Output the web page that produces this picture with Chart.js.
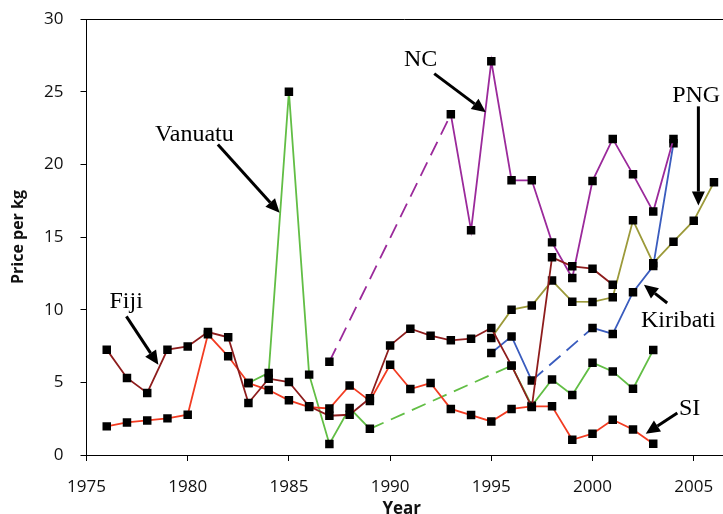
<!DOCTYPE html>
<html>
<head>
<meta charset="utf-8">
<script src="https://cdn.jsdelivr.net/npm/chart.js@4/dist/chart.umd.min.js"></script>
<style>
  html, body { margin: 0; padding: 0; background: #ffffff; }
  #wrap { width: 723px; height: 514px; position: relative; }
</style>
</head>
<body>
<div id="wrap"><canvas id="c" width="723" height="514"></canvas></div>
<script>
// ---- Data (years 1976..2006) ----
const years = [1976,1977,1978,1979,1980,1981,1982,1983,1984,1985,1986,1987,1988,1989,1990,1991,1992,1993,1994,1995,1996,1997,1998,1999,2000,2001,2002,2003,2004,2005,2006];

const fiji = [7.25,5.3,4.27,7.25,7.47,8.46,8.1,3.58,5.25,5.02,3.35,2.7,2.77,3.9,7.54,8.69,8.21,7.89,8.0,8.74,6.15,3.3,13.6,12.98,12.82,11.72,null,null,null,null,null];
const si = [1.97,2.24,2.38,2.52,2.77,8.3,6.79,4.95,4.47,3.76,3.3,3.2,4.79,3.72,6.21,4.54,4.95,3.17,2.75,2.31,3.17,3.35,3.35,1.05,1.47,2.43,1.76,0.77,null,null,null];
const vanuatu = [null,null,null,null,null,null,null,4.95,5.65,25.0,5.53,0.76,3.23,1.8,null,null,null,null,null,null,6.15,3.39,5.2,4.13,6.35,5.75,4.56,7.22,null,null,null];
const nc = [null,null,null,null,null,null,null,null,null,null,null,6.42,null,null,null,null,null,23.44,15.46,27.09,18.9,18.9,14.63,12.18,18.86,21.75,19.31,16.75,21.75,null,null];
const png = [null,null,null,null,null,null,null,null,null,null,null,null,null,null,null,null,null,null,null,8.05,10.0,10.28,12.0,10.55,10.53,10.85,16.15,13.2,14.68,16.12,18.76];
const kiribati = [null,null,null,null,null,null,null,null,null,null,null,null,null,null,null,null,null,null,null,7.02,8.16,5.12,null,null,8.74,8.33,11.2,13.0,21.45,null,null];

const seriesNames = ['Fiji','SI','Vanuatu','NC','PNG','Kiribati'];
const seriesData = [fiji, si, vanuatu, nc, png, kiribati];
const seriesColors = ['#8E1D1D','#F23C22','#62BE45','#9B2A9B','#9C9A3A','#3A5CBE'];

const xTicks = [1975,1980,1985,1990,1995,2000,2005];
const yTicks = [0,5,10,15,20,25,30];

// annotation labels: text, centre x (year), baseline y (value)
const labelTexts = ['Vanuatu','Fiji','NC','PNG','Kiribati','SI'];
const labelX = [1980.33,1976.96,1991.51,2005.12,2004.24,2004.80];
const labelY = [21.58,10.12,26.74,24.27,8.81,2.73];
// arrows: from (x0,y0) to tip (x1,y1), data units
const arrowX0 = [1981.49,1976.97,1992.18,2005.23,2003.69,2004.19];
const arrowY0 = [21.36,9.54,26.24,23.99,10.46,2.89];
const arrowX1 = [1984.54,1978.55,1994.73,2005.23,2002.54,2002.63];
const arrowY1 = [16.66,6.21,23.58,17.16,11.72,1.47];

const dashGap = ctx => (ctx.p0.skip || ctx.p1.skip) ? [15, 8] : undefined;

const datasets = seriesNames.map((name, i) => ({
  label: name,
  data: years.map((yr, k) => ({x: yr, y: seriesData[i][k]})),
  borderColor: seriesColors[i],
  borderWidth: 1.8,
  pointStyle: 'rect',
  pointRadius: 6,
  pointBackgroundColor: '#000',
  pointBorderColor: '#000',
  pointBorderWidth: 0,
  spanGaps: true,
  tension: 0,
  clip: 10,
  segment: { borderDash: dashGap }
}));

const annotPlugin = {
  id: 'annot',
  afterDatasetsDraw(chart) {
    const {ctx, scales: {x, y}, chartArea} = chart;
    ctx.save();
    // frame: top line and continuation of the bottom axis to the right edge
    ctx.strokeStyle = '#000';
    ctx.lineWidth = 1;
    ctx.beginPath();
    ctx.moveTo(chartArea.left, Math.round(chartArea.top) + 0.5);
    ctx.lineTo(chart.width, Math.round(chartArea.top) + 0.5);
    ctx.moveTo(chartArea.right - 1, Math.round(chartArea.bottom) + 0.5);
    ctx.lineTo(chart.width, Math.round(chartArea.bottom) + 0.5);
    ctx.stroke();
    // labels
    ctx.fillStyle = '#000';
    ctx.font = '24px "Liberation Serif", "Times New Roman", serif';
    ctx.textAlign = 'center';
    ctx.textBaseline = 'alphabetic';
    labelTexts.forEach((t, i) => {
      ctx.fillText(t, x.getPixelForValue(labelX[i]), y.getPixelForValue(labelY[i]));
    });
    // arrows
    for (let i = 0; i < arrowX0.length; i++) {
      const x0 = x.getPixelForValue(arrowX0[i]), y0 = y.getPixelForValue(arrowY0[i]);
      const x1 = x.getPixelForValue(arrowX1[i]), y1 = y.getPixelForValue(arrowY1[i]);
      const ang = Math.atan2(y1 - y0, x1 - x0);
      const hl = 14, hw = 6.5;
      const bx = x1 - hl * Math.cos(ang), by = y1 - hl * Math.sin(ang);
      ctx.lineWidth = 3;
      ctx.beginPath();
      ctx.moveTo(x0, y0);
      ctx.lineTo(bx, by);
      ctx.stroke();
      ctx.beginPath();
      ctx.moveTo(x1, y1);
      ctx.lineTo(bx + hw * Math.sin(ang), by - hw * Math.cos(ang));
      ctx.lineTo(bx - hw * Math.sin(ang), by + hw * Math.cos(ang));
      ctx.closePath();
      ctx.fill();
    }
    ctx.restore();
  }
};

new Chart(document.getElementById('c'), {
  type: 'line',
  data: { datasets },
  plugins: [annotPlugin],
  options: {
    responsive: false,
    animation: false,
    events: [],
    layout: { padding: { top: 19, right: 0, bottom: 0, left: 0 } },
    plugins: { legend: { display: false }, tooltip: { enabled: false } },
    scales: {
      x: {
        type: 'linear',
        min: 1975, max: 2006.15,
        afterFit: s => { s.height = 59; s.paddingLeft = 0; s.paddingRight = 0; },
        afterBuildTicks: s => { s.ticks = xTicks.map(v => ({value: v})); },
        ticks: { color: '#111', font: { family: '"Open Sans"', size: 17 }, padding: 16, includeBounds: false, maxRotation: 0, autoSkip: false, callback: v => String(v) },
        grid: { display: true, drawOnChartArea: false, drawTicks: true, tickLength: 6, color: '#000', lineWidth: 1 },
        border: { display: true, color: '#000', width: 1 },
        title: { display: true, text: 'Year', color: '#111', font: { family: '"Open Sans"', size: 17, weight: 'bold', lineHeight: 1 }, padding: { top: 0, bottom: -4 } }
      },
      y: {
        min: 0, max: 30,
        afterFit: s => { s.width = 86.5; s.paddingTop = 0; s.paddingBottom = 0; },
        afterBuildTicks: s => { s.ticks = yTicks.map(v => ({value: v})); },
        ticks: { color: '#111', font: { family: '"Open Sans"', size: 17 }, padding: 17, callback: v => String(v) },
        grid: { display: true, drawOnChartArea: false, drawTicks: true, tickLength: 6, color: '#000', lineWidth: 1 },
        border: { display: true, color: '#000', width: 1 },
        title: { display: true, text: 'Price per kg', color: '#111', font: { family: '"Open Sans"', size: 16, weight: 'bold', lineHeight: 1.2 }, padding: { top: 9, bottom: 0 } }
      }
    }
  }
});
</script>
</body>
</html>
